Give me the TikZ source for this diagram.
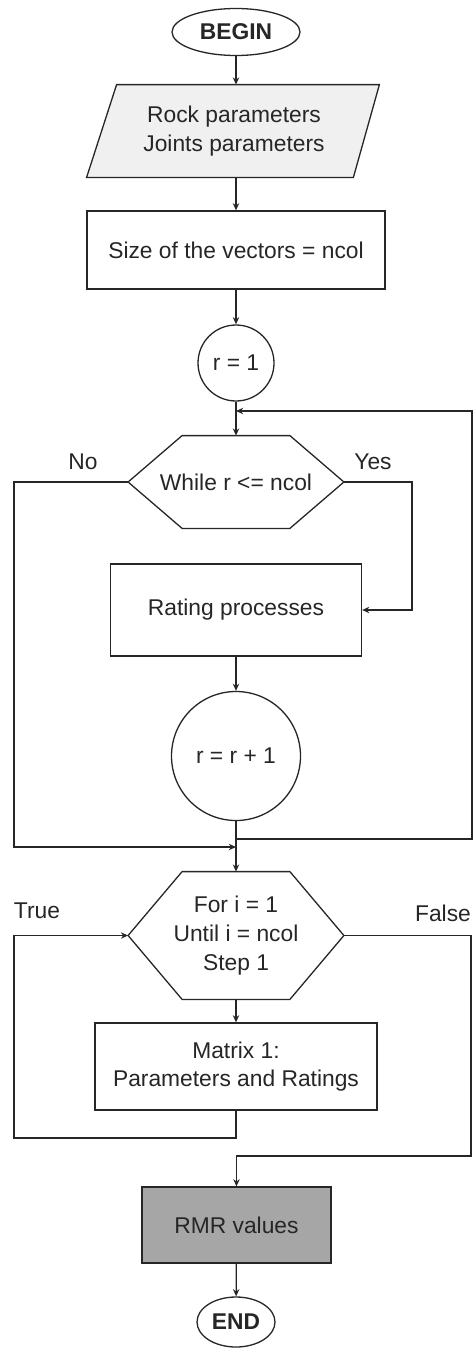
\documentclass[tikz,border=0pt]{standalone}
\usepackage{fontspec}
\setmainfont{Liberation Sans}
\usetikzlibrary{arrows.meta,calc,shapes.geometric,backgrounds}
\begin{document}
\begin{tikzpicture}[x=0.5pt,y=-0.5pt,
  every node/.style={font=\fontsize{11.4}{14.3}\selectfont, text=black!85, inner sep=0pt, align=center},
  outline/.style={draw=black!85, line width=0.65pt},
  term/.style={outline, ellipse, font=\fontsize{11.4}{14.3}\selectfont\bfseries},
  procbox/.style={outline, rectangle},
  roundnode/.style={outline, circle},
  ghost/.style={rectangle, draw=none},
  conn/.style={draw=black!85, line width=0.65pt},
  arr/.style={conn, -{Stealth[length=3.6pt,width=3.2pt]}}
]
\useasboundingbox (0,0) rectangle (473,1349);

% nodes
\node[term, minimum width=64pt, minimum height=23.5pt] (begin) at (236,32) {BEGIN};
\node[ghost, minimum width=132pt, minimum height=46pt] (in) at (234,131) {Rock parameters\\Joints parameters};
\node[procbox, minimum width=149pt, minimum height=39pt] (size) at (236,250) {Size of the vectors = ncol};
\node[roundnode, minimum size=38pt] (r1) at (236,363) {r = 1};
\node[ghost, minimum width=107.5pt, minimum height=46pt] (wh) at (236,482) {While r <= ncol};
\node[procbox, minimum width=125.5pt, minimum height=46pt] (rate) at (236,610) {Rating processes};
\node[roundnode, minimum size=64.5pt] (inc) at (236,756) {r = r + 1};
\node[ghost, minimum width=107.5pt, minimum height=63.5pt] (for) at (236,935.5) {For i = 1\\Until i = ncol\\Step 1};
\node[procbox, minimum width=141pt, minimum height=43.5pt] (mat) at (236,1066.5) {Matrix 1:\\Parameters and Ratings};
\node[procbox, fill=black!35, minimum width=94.5pt, minimum height=38pt] (rmr) at (236.5,1225) {RMR values};
\node[term, minimum width=39pt, minimum height=25pt] (end) at (236,1322) {END};

% labels
\node (no) at (83,462) {No};
\node (yes) at (373,462) {Yes};
\node (true) at (37,911) {True};
\node (false) at (443,913) {False};

% special shapes
\begin{scope}[on background layer]
\draw[outline, fill=black!6] ($(in.north west)+(15,0)$) -- ($(in.north east)+(13,0)$) -- ($(in.south east)+(-13,0)$) -- ($(in.south west)+(-15,0)$) -- cycle;
\end{scope}
\draw[outline] (wh.west) -- ($(wh.north west)+(54,0)$) -- ($(wh.north east)+(-54,0)$) -- (wh.east) -- ($(wh.south east)+(-54,0)$) -- ($(wh.south west)+(54,0)$) -- cycle;
\draw[outline] (for.west) -- ($(for.north west)+(54,0)$) -- ($(for.north east)+(-54,0)$) -- (for.east) -- ($(for.south east)+(-54,0)$) -- ($(for.south west)+(54,0)$) -- cycle;

% junctions
\coordinate (j1) at (236,411);
\coordinate (j2) at (236,839);
\coordinate (j3) at (236,847);

% connectors
\draw[arr] (begin) -- (begin.south |- in.north);
\draw[arr] (begin.south |- in.south) -- (size.north);
\draw[arr] (size) -- (r1);
\draw[arr] (r1) -- (wh.north);
\draw[arr] (wh.east) -- (412,482) |- (rate.east);
\draw[arr] (rate) -- (inc);
\draw[arr] (inc) -- (for.north);
\draw[arr] (j2) -- (472,839) -- (472,411) -- (j1);
\draw[arr] (wh.west) -- (14,482) -- (14,847) -- (j3);
\draw[arr] (for.south) -- (mat.north);
\draw[arr] (mat.south) -- (236,1138) -- (14,1138) |- (for.west);
\draw[arr] (for.east) -- (471,935.5) -- (471,1156) -| (rmr.north);
\draw[arr] (rmr) -- (end);
\end{tikzpicture}
\end{document}
